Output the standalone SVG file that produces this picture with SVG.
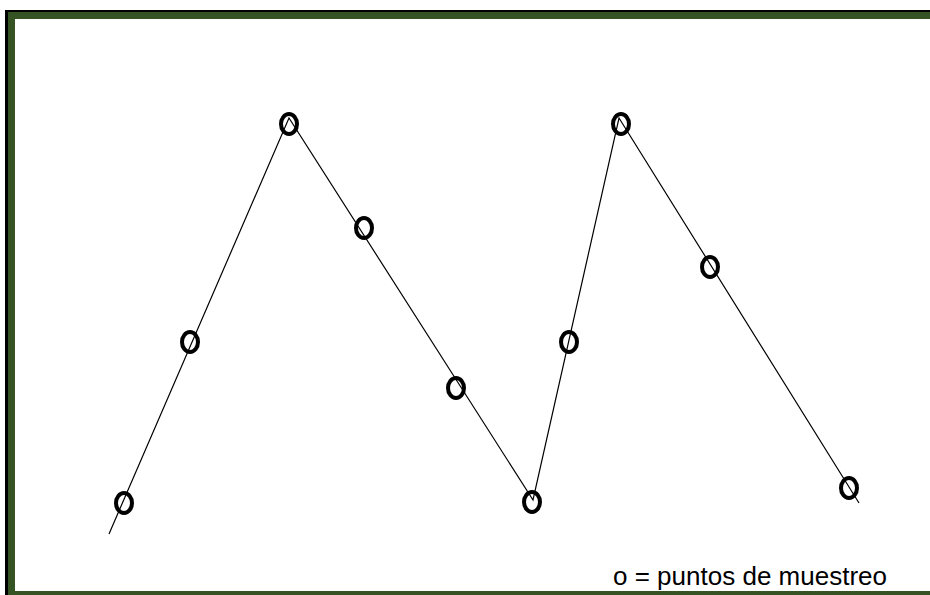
<svg xmlns="http://www.w3.org/2000/svg" width="930" height="595" viewBox="0 0 930 595">
<style>
.pt{fill:none;stroke:#000;stroke-width:4}
.ln{fill:none;stroke:#000;stroke-width:1.2}
.lbl{font-family:"Liberation Sans",Arial,sans-serif;font-size:25px;fill:#000}
</style>
<rect x="0" y="0" width="930" height="595" fill="#fff"/>
<g id="frame">
<rect x="5" y="10" width="925" height="2" fill="#000"/>
<rect x="5" y="10" width="3" height="585" fill="#000"/>
<rect x="8" y="12" width="922" height="7" fill="#365323"/>
<rect x="8" y="12" width="7" height="583" fill="#365323"/>
<rect x="8" y="591" width="922" height="4" fill="#365323"/>
</g>
<g id="connectors">
<polyline class="ln" points="109,534 289,118 533,500 619,118 859,503"/>
</g>
<g id="p1"><ellipse class="pt" cx="124" cy="503" rx="8" ry="10"/></g>
<g id="p2"><ellipse class="pt" cx="190" cy="342" rx="8" ry="10"/></g>
<g id="p3"><ellipse class="pt" cx="289" cy="124" rx="8" ry="10"/></g>
<g id="p4"><ellipse class="pt" cx="364" cy="228" rx="8" ry="10"/></g>
<g id="p5"><ellipse class="pt" cx="456" cy="388" rx="8" ry="10"/></g>
<g id="p6"><ellipse class="pt" cx="532" cy="502" rx="8" ry="10"/></g>
<g id="p7"><ellipse class="pt" cx="569" cy="342" rx="8" ry="10"/></g>
<g id="p8"><ellipse class="pt" cx="621" cy="124" rx="8" ry="10"/></g>
<g id="p9"><ellipse class="pt" cx="710" cy="267" rx="8" ry="10"/></g>
<g id="p10"><ellipse class="pt" cx="849" cy="488" rx="8" ry="10"/></g>
<g id="legend"><text class="lbl" x="613" y="585" textLength="274" lengthAdjust="spacingAndGlyphs">o = puntos de muestreo</text></g>
</svg>
